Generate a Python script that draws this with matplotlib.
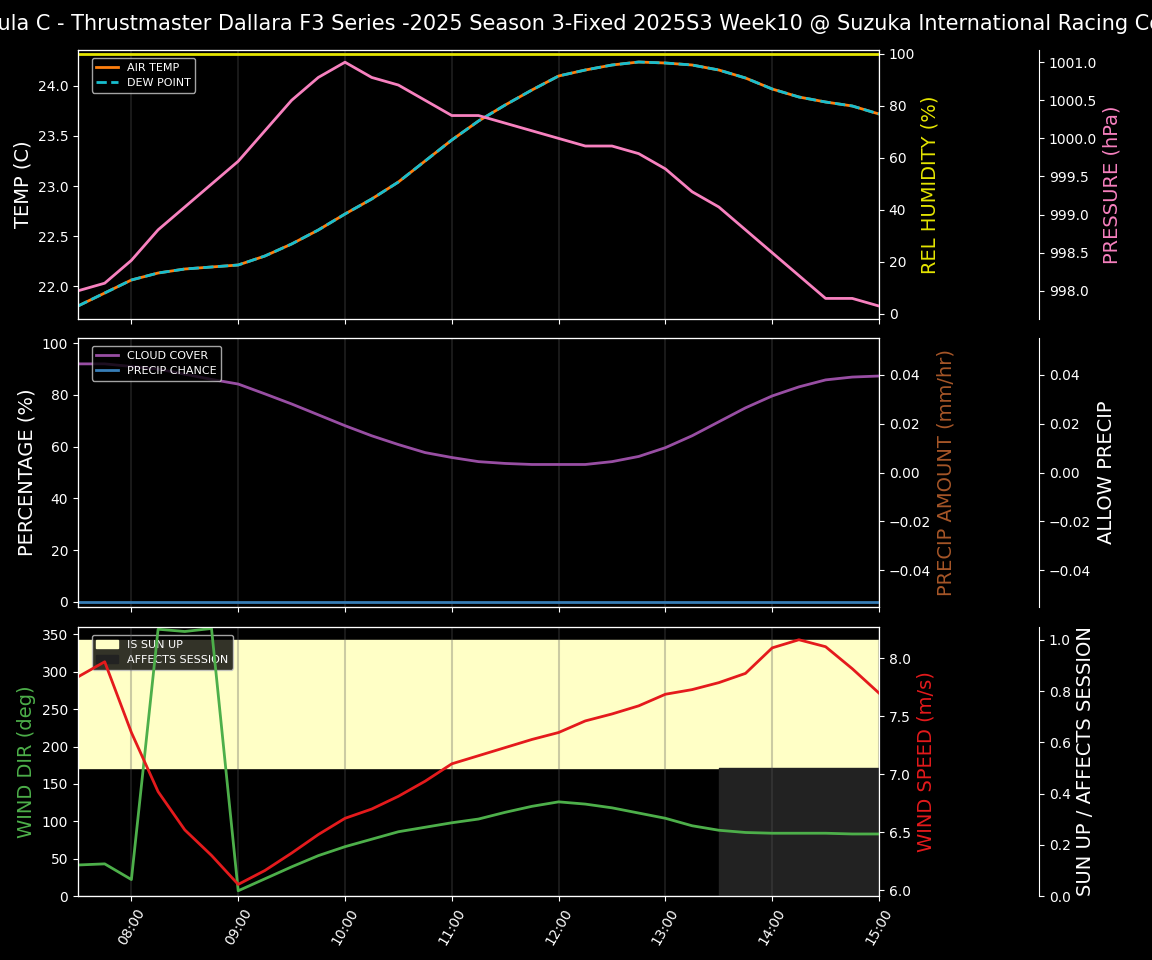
import numpy as np
import matplotlib
matplotlib.use('Agg')
import matplotlib.pyplot as plt
import matplotlib.dates as mdates
import pandas as pd

times = pd.date_range('2025-01-01 07:30', '2025-01-01 15:00', freq='15min')

dew_point = [21.8, 21.93, 22.06, 22.13, 22.17, 22.19, 22.21, 22.3, 22.42, 22.56, 22.72, 22.87,
             23.04, 23.25, 23.46, 23.65, 23.81, 23.96, 24.1, 24.16, 24.21, 24.24, 24.23, 24.21,
             24.16, 24.08, 23.97, 23.89, 23.84, 23.8, 23.72]
air_temp = dew_point
humidity = [100] * 31
pressure = [998.0, 998.1, 998.4, 998.8, 999.1, 999.4, 999.7, 1000.1, 1000.5, 1000.8, 1001.0,
            1000.8, 1000.7, 1000.5, 1000.3, 1000.3, 1000.2, 1000.1, 1000.0, 999.9, 999.9, 999.8,
            999.6, 999.3, 999.1, 998.8, 998.5, 998.2, 997.9, 997.9, 997.8]
cloud = [92, 92, 91, 90, 88, 86, 84.2, 80.4, 76.5, 72.3, 68.1, 64.2, 60.8, 57.7, 55.8, 54.2,
         53.5, 53.1, 53.1, 53.1, 54.2, 56.2, 59.6, 64.2, 69.6, 75, 79.6, 83.1, 85.8, 86.9, 87.3]
precip_chance = [0] * 31
precip_amount = [0] * 31
wind_dir = [41.5, 43, 22, 357, 354, 358, 7, 23, 39, 54, 66, 76, 86, 92, 98, 103, 112, 120, 126,
            123, 118, 111, 104, 94, 88, 85, 84, 84, 84, 83, 83]
wind_speed = [7.84, 7.97, 7.36, 6.85, 6.52, 6.30, 6.05, 6.17, 6.32, 6.48, 6.62, 6.70, 6.81, 6.94,
              7.09, 7.16, 7.23, 7.30, 7.36, 7.46, 7.52, 7.59, 7.69, 7.73, 7.79, 7.87, 8.09, 8.16,
              8.10, 7.91, 7.70]
sun_up = [1] * 31
affects = [0] * 24 + [1] * 7

plt.style.use('dark_background')
fig = plt.figure(figsize=(11.52, 9.6), dpi=100)
L, W = 78 / 1152, 801 / 1152
def box(top, bot):
    return [L, 1 - bot / 960, W, (bot - top) / 960]

ax1 = fig.add_axes(box(50, 319))
ax2 = fig.add_axes(box(338, 607), sharex=ax1)
ax3 = fig.add_axes(box(627, 896), sharex=ax1)
fig.suptitle('Formula C - Thrustmaster Dallara F3 Series -2025 Season 3-Fixed 2025S3 Week10 @ Suzuka International Racing Course',
             fontsize=15, y=0.985)

# top panel
ax1.plot(times, air_temp, color='#ff7f0e', lw=2, label='AIR TEMP')
ax1.plot(times, dew_point, color='#17becf', lw=2, ls='--', label='DEW POINT')
ax1.set_ylim(21.67, 24.36)
ax1.set_ylabel('TEMP (C)', fontsize=14)
ax1.legend(loc='upper left', fontsize=8, bbox_to_anchor=(0.01, 0.99))
h = ax1.twinx()
h.plot(times, humidity, color='#e5e500', lw=2)
h.set_ylim(-2, 101.5)
h.set_ylabel('REL HUMIDITY (%)', color='#e5e500', fontsize=14)
p = ax1.twinx()
p.spines['right'].set_position(('axes', 1.2))
p.plot(times, pressure, color='#f781bf', lw=2)
p.set_ylim(997.63, 1001.16)
p.set_ylabel('PRESSURE (hPa)', color='#f781bf', fontsize=14)

# middle panel
ax2.plot(times, cloud, color='#984ea3', lw=2, label='CLOUD COVER')
ax2.plot(times, precip_chance, color='#377eb8', lw=2, label='PRECIP CHANCE')
ax2.set_ylim(-2, 102)
ax2.set_ylabel('PERCENTAGE (%)', fontsize=14)
ax2.legend(loc='upper left', fontsize=8, bbox_to_anchor=(0.01, 0.99))
pa = ax2.twinx()
pa.plot(times, precip_amount, alpha=0)
pa.set_ylim(-0.055, 0.055)
pa.set_ylabel('PRECIP AMOUNT (mm/hr)', color='#a65628', fontsize=14)
ap = ax2.twinx()
ap.spines['right'].set_position(('axes', 1.2))
ap.plot(times, precip_amount, alpha=0)
ap.set_ylim(-0.055, 0.055)
ap.set_ylabel('ALLOW PRECIP', fontsize=14)

# bottom panel
su = ax3.twinx()
su.spines['right'].set_position(('axes', 1.2))
su.fill_between(times, 0.5, np.array(sun_up) * 1.0, color='#ffffc6', step='post', label='IS SUN UP')
su.fill_between(times, 0, np.array(affects) * 0.5, color='#222222', step='post', label='AFFECTS SESSION')
su.set_ylim(0, 1.05)
su.set_ylabel('SUN UP / AFFECTS SESSION', fontsize=14)
su.legend(loc='upper left', fontsize=8, bbox_to_anchor=(0.01, 0.99), framealpha=0.8)
ax3.set_zorder(su.get_zorder() + 1)
ax3.patch.set_visible(False)
ax3.plot(times, wind_dir, color='#4daf4a', lw=2)
ax3.set_ylim(0, 360)
ax3.set_ylabel('WIND DIR (deg)', color='#4daf4a', fontsize=14)
ws = ax3.twinx()
ws.plot(times, wind_speed, color='#e41a1c', lw=2)
ws.set_ylim(5.95, 8.27)
ws.set_ylabel('WIND SPEED (m/s)', color='#e41a1c', fontsize=14)

for ax in (ax1, ax2, ax3):
    ax.grid(axis='x', color='#555555', alpha=0.3, lw=1.5)
    ax.set_xlim(times[0], times[-1])
ax3.xaxis.set_major_locator(mdates.HourLocator())
ax3.xaxis.set_major_formatter(mdates.DateFormatter('%H:%M'))
plt.setp(ax1.get_xticklabels(), visible=False)
plt.setp(ax2.get_xticklabels(), visible=False)
plt.setp(ax3.get_xticklabels(), rotation=60)

fig.savefig('out.png', dpi=100, facecolor='black')
